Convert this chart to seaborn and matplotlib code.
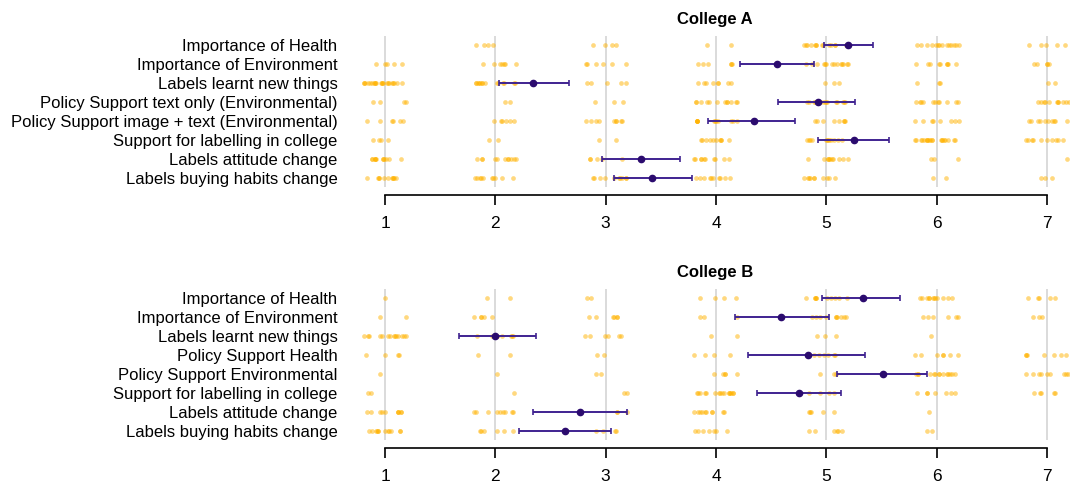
import pandas as pd
import matplotlib
matplotlib.use('Agg')
import matplotlib.pyplot as plt
import numpy as np
import seaborn as sns

# survey items (top to bottom) for each college
items_a = ['Importance of Health', 'Importance of Environment', 'Labels learnt new things',
           'Policy Support text only (Environmental)', 'Policy Support image + text (Environmental)',
           'Support for labelling in college', 'Labels attitude change', 'Labels buying habits change']
items_b = ['Importance of Health', 'Importance of Environment', 'Labels learnt new things',
           'Policy Support Health', 'Policy Support Environmental',
           'Support for labelling in college', 'Labels attitude change', 'Labels buying habits change']

levels = [1, 2, 3, 4, 5, 6, 7]

# number of responses at each level 1..7, per item
counts_a = [
    [0, 4, 4, 2, 14, 14, 5],
    [5, 7, 6, 6, 14, 9, 5],
    [22, 14, 5, 8, 3, 3, 2],
    [4, 2, 3, 12, 14, 11, 11],
    [6, 6, 9, 12, 8, 8, 10],
    [4, 2, 2, 10, 12, 20, 10],
    [12, 11, 5, 10, 11, 3, 1],
    [11, 10, 10, 10, 10, 2, 3],
]
counts_b = [
    [1, 2, 2, 4, 10, 12, 5],
    [2, 5, 6, 3, 10, 6, 3],
    [14, 9, 6, 2, 3, 1, 0],
    [4, 2, 2, 4, 6, 7, 7],
    [1, 1, 2, 5, 3, 14, 9],
    [2, 1, 2, 16, 4, 7, 5],
    [10, 9, 3, 10, 5, 1, 0],
    [12, 6, 4, 7, 6, 2, 0],
]

# mean and confidence interval per item
mean_a = [5.20, 4.55, 2.34, 4.92, 4.34, 5.25, 3.32, 3.42]
lo_a = [4.98, 4.22, 2.03, 4.56, 3.93, 4.92, 2.97, 3.08]
hi_a = [5.42, 4.89, 2.67, 5.26, 4.72, 5.57, 3.67, 3.78]

mean_b = [5.33, 4.59, 2.00, 4.83, 5.51, 4.75, 2.77, 2.63]
lo_b = [4.96, 4.17, 1.67, 4.29, 5.10, 4.37, 2.34, 2.21]
hi_b = [5.67, 5.02, 2.37, 5.35, 5.91, 5.13, 3.19, 3.05]

plt.rcParams['font.family'] = ['Liberation Sans', 'DejaVu Sans']

W, H = 1070, 486
fig = plt.figure(figsize=(W / 100, H / 100), dpi=100)
np.random.seed(3)


def panel(top_px, title, items, counts, means, lo, hi):
    # axes spans grid-line extent in pixels
    ax = fig.add_axes([361 / W, 1 - (top_px + 151) / H, 708 / W, 151 / H])
    rows = []
    for i, (item, cnt) in enumerate(zip(items, counts)):
        for lev, n in zip(levels, cnt):
            for _ in range(n):
                rows.append({'value': lev, 'pos': i})
    df = pd.DataFrame(rows)
    sns.stripplot(data=df, x='value', y='pos', orient='x', native_scale=True,
                  jitter=0.2, color='#FFB300', alpha=0.5, size=3.4, linewidth=0, ax=ax)
    means = np.array(means)
    err = [means - np.array(lo), np.array(hi) - means]
    ax.errorbar(means, range(len(items)), xerr=err, fmt='o', color='#2B0B6E',
                ecolor='#3F2390', elinewidth=1.4, capsize=2.3, capthick=1.2,
                markersize=4.5, zorder=5)
    ax.set_xlim(1 - 24 / 110.33, 7 + 22 / 110.33)
    ax.set_ylim(7.47, -0.47)
    ax.set_yticks(range(len(items)))
    ax.set_yticklabels(items)
    ax.set_xticks(levels)
    ax.set_xticklabels([str(l) for l in levels])
    ax.set_xlabel('')
    ax.set_ylabel('')
    for s in ['top', 'right', 'left']:
        ax.spines[s].set_visible(False)
    ax.spines['bottom'].set_position(('outward', 6))
    ax.spines['bottom'].set_bounds(1, 7)
    ax.spines['bottom'].set_linewidth(1.2)
    ax.tick_params(axis='y', length=0, pad=17, labelsize=12)
    ax.tick_params(axis='x', length=7, width=1.2, pad=8, labelsize=12.5)
    ax.grid(axis='x', color='#D4D4D4', linewidth=1.2)
    ax.set_axisbelow(True)
    ax.set_title(title, fontsize=12, fontweight='bold', pad=9)
    return ax


panel(36, 'College A', items_a, counts_a, mean_a, lo_a, hi_a)
panel(289, 'College B', items_b, counts_b, mean_b, lo_b, hi_b)

fig.savefig('out.png', dpi=100)
